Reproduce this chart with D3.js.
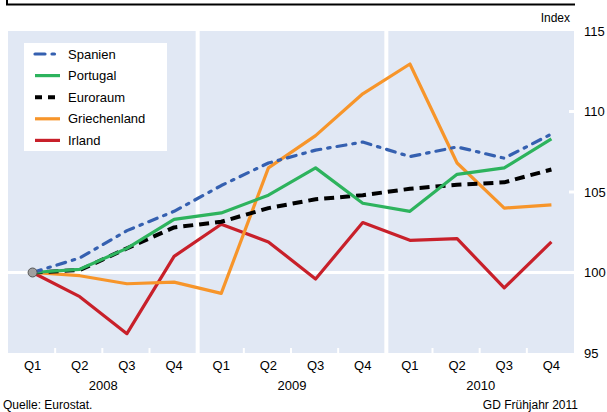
<!DOCTYPE html>
<html><head><meta charset="utf-8">
<script src="https://cdn.jsdelivr.net/npm/d3@7"></script>
<style>body{margin:0;background:#fff;}svg{display:block;font-family:"Liberation Sans",Arial,sans-serif;}</style>
</head><body><svg id="c" width="607" height="412"></svg>
<script>
const quarters = ["Q1","Q2","Q3","Q4","Q1","Q2","Q3","Q4","Q1","Q2","Q3","Q4"];
const years = ["2008","2009","2010"];
const yTicks = [95,100,105,110,115];
const spanien      = [100,100.9,102.6,103.8,105.4,106.8,107.6,108.1,107.2,107.8,107.1,108.6];
const portugal     = [100,100.2,101.5,103.3,103.7,104.8,106.5,104.3,103.8,106.1,106.5,108.3];
const euroraum     = [100,100.15,101.5,102.8,103.15,104.0,104.55,104.8,105.2,105.45,105.6,106.4];
const griechenland = [100,99.8,99.3,99.4,98.7,106.5,108.5,111.1,112.95,106.8,104.0,104.2];
const irland       = [100,98.5,96.2,101.0,103.0,101.9,99.6,103.1,102.0,102.1,99.05,101.9];
const seriesNames = ["Spanien","Portugal","Euroraum","Griechenland","Irland"];

const series = [
  {name:seriesNames[0], values:spanien, color:"#3560b0", width:3.2, dash:"9,7,2.5,7", cap:"round"},
  {name:seriesNames[1], values:portugal, color:"#2db35d", width:3.2, dash:null},
  {name:seriesNames[2], values:euroraum, color:"#000000", width:4, dash:"10,6"},
  {name:seriesNames[3], values:griechenland, color:"#f7952a", width:3.2, dash:null},
  {name:seriesNames[4], values:irland, color:"#c8202a", width:3.2, dash:null}
];

const svg = d3.select("#c");
const L = 8, R = 574, T = 31, B = 353;
const x = d3.scaleBand().domain(d3.range(12)).range([L,R]).padding(0);
const xc = i => x(i) + x.bandwidth()/2 + 1;
const y = d3.scaleLinear().domain([95,115]).range([B,T]);

// top frame
svg.append("path").attr("d",`M7,0 V4.5 H575`).attr("fill","none").attr("stroke","#000").attr("stroke-width",2);

// background
svg.append("rect").attr("x",L).attr("y",T).attr("width",R-L).attr("height",B-T).attr("fill","#e1e8f4");

// 100 gridline
svg.append("line").attr("x1",L).attr("x2",R).attr("y1",y(100)).attr("y2",y(100)).attr("stroke","#fff").attr("stroke-width",3);
// year separators
[4,8].forEach(i=>{
  svg.append("line").attr("x1",x(i)+1).attr("x2",x(i)+1).attr("y1",T).attr("y2",B).attr("stroke","#fff").attr("stroke-width",4);
});
// quarter ticks at bottom
d3.range(1,12).filter(i=>i%4!==0).forEach(i=>{
  svg.append("line").attr("x1",x(i)).attr("x2",x(i)).attr("y1",B).attr("y2",B-5).attr("stroke","#fff").attr("stroke-width",2);
});
// right ticks
[105,110].forEach(v=>{
  svg.append("line").attr("x1",R-5).attr("x2",R).attr("y1",y(v)).attr("y2",y(v)).attr("stroke","#fff").attr("stroke-width",3);
});

// y axis labels
const yAxis = d3.axisRight(y).tickValues(yTicks).tickSize(0).tickPadding(0);
const gy = svg.append("g").attr("transform",`translate(584,0)`).call(yAxis);
gy.select(".domain").remove();
gy.selectAll("text").attr("font-size",13).attr("fill","#000").attr("font-family","Liberation Sans, Arial, sans-serif");
svg.append("text").attr("x",570).attr("y",22).attr("text-anchor","end").attr("font-size",12).text("Index");

// x axis labels
const xAxis = d3.axisBottom(x).tickFormat(i=>quarters[i]).tickSize(0).tickPadding(0);
const gx = svg.append("g").attr("transform",`translate(1,${B+8})`).call(xAxis);
gx.select(".domain").remove();
gx.selectAll("text").attr("font-size",13).attr("fill","#000").attr("font-family","Liberation Sans, Arial, sans-serif");
years.forEach((yr,k)=>{
  svg.append("text").attr("x",(x(k*4)+x(k*4+3)+x.bandwidth())/2+1).attr("y",390).attr("text-anchor","middle").attr("font-size",13).text(yr);
});

// footer
svg.append("text").attr("x",3).attr("y",409).attr("font-size",12).text("Quelle: Eurostat.");
svg.append("text").attr("x",578).attr("y",409).attr("text-anchor","end").attr("font-size",12).text("GD Frühjahr 2011");

// lines
const line = d3.line().x((d,i)=>xc(i)).y(d=>y(d));
series.slice().reverse().forEach(s=>{
  svg.append("path").attr("d",line(s.values)).attr("fill","none").attr("stroke",s.color)
    .attr("stroke-width",s.width).attr("stroke-dasharray",s.dash).attr("stroke-linecap",s.cap||"butt").attr("stroke-linejoin","round");
});
// start circle
svg.append("circle").attr("cx",xc(0)).attr("cy",y(100)).attr("r",4.5).attr("fill","#a0a0a0").attr("stroke","#555").attr("stroke-width",1);

// legend
const lg = svg.append("g");
lg.append("rect").attr("x",24).attr("y",43).attr("width",143).attr("height",108).attr("fill","#fff");
series.forEach((s,k)=>{
  const yy = 54 + k*21.6;
  lg.append("line").attr("x1",35).attr("x2",60).attr("y1",yy).attr("y2",yy).attr("stroke",s.color)
    .attr("stroke-width",s.width).attr("stroke-dasharray",s.name==="Spanien"?"10,7,2.5,7":(s.name==="Euroraum"?"7,6":null))
    .attr("stroke-linecap",s.cap||"butt");
  lg.append("text").attr("x",68).attr("y",yy+4.5).attr("font-size",13).text(s.name);
});
</script></body></html>
